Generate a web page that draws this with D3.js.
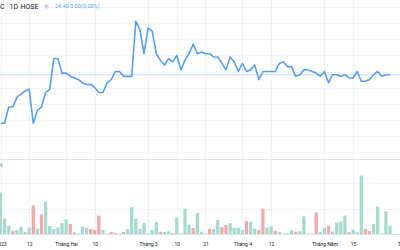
<!DOCTYPE html>
<html>
<head>
<meta charset="utf-8">
<script src="https://cdn.jsdelivr.net/npm/d3@7"></script>
<style>
  body { margin: 0; background: #fff; }
  svg { display: block; font-family: Roboto, "Liberation Sans", Arial, sans-serif; }
</style>
</head>
<body>
<div id="chart"></div>
<script>
// daily closes, Jan 3 2023 .. May 26 2023 (index 0..95)
const prices = [
  22.90, 22.90, 23.40, 23.40, 23.70, 23.80, 23.90, 23.95, 22.90, 23.30,
  23.40, 23.85, 23.95, 24.90, 24.90, 24.45, 24.45, 24.35, 24.30, 24.25,
  24.15, 24.10, 24.10, 24.00, 23.85, 23.85, 24.15, 24.25, 24.50, 24.50,
  24.35, 24.35, 24.35, 26.05, 25.80, 25.05, 25.85, 25.75, 25.05, 24.85,
  24.70, 24.90, 24.80, 25.00, 24.55, 24.85, 25.05, 25.35, 25.05, 25.10,
  25.05, 25.05, 24.95, 24.95, 24.75, 24.55, 24.95, 24.80, 24.50, 24.75,
  24.50, 24.55, 24.70, 24.25, 24.50, 24.50, 24.50, 24.50, 24.75, 24.80,
  24.65, 24.65, 24.35, 24.40, 24.55, 24.55, 24.50, 24.45, 24.35, 24.50,
  24.15, 24.40, 24.40, 24.35, 24.40, 24.30, 24.30, 24.50, 24.20, 24.20,
  24.25, 24.40, 24.50, 24.35, 24.40, 24.40
];

// volume in thousands
const volumes = [
  326, 120, 64, 24, 32, 56, 16, 50, 224, 42,
  154, 254, 64, 40, 50, 86, 114, 78, 14, 6,
  58, 50, 40, 32, 144, 32, 4, 16, 8, 4,
  16, 38, 210, 120, 40, 86, 4, 32, 94, 18,
  16, 22, 8, 128, 4, 198, 74, 46, 166, 18,
  4, 40, 38, 110, 54, 72, 86, 50, 50, 32,
  104, 96, 40, 32, 198, 50, 62, 26, 18, 4,
  6, 32, 18, 22, 138, 4, 4, 170, 14, 50,
  64, 22, 90, 98, 144, 14, 34, 14, 458, 42,
  22, 80, 214, 4, 176, 64
];

// 1 = up day (green), 0 = down day (red)
const upDay = [
  1, 1, 1, 0, 1, 1, 1, 1, 0, 1,
  0, 1, 1, 1, 1, 1, 1, 0, 1, 1,
  1, 1, 0, 0, 0, 1, 1, 0, 0, 1,
  0, 1, 1, 1, 1, 1, 1, 1, 1, 0,
  1, 1, 0, 1, 1, 1, 1, 0, 1, 1,
  1, 0, 1, 1, 0, 0, 1, 1, 1, 1,
  0, 1, 1, 0, 0, 1, 1, 0, 1, 1,
  1, 1, 0, 1, 1, 1, 1, 0, 1, 1,
  0, 1, 1, 1, 1, 0, 1, 1, 1, 0,
  0, 1, 1, 1, 1, 1
];

const tickIndex = [0, 7, 16, 23, 36, 43, 50, 59, 66, 79, 86, 99];
const tickLabels = ["2023", "12", "Tháng Hai", "10", "Tháng 3", "10", "21", "Tháng 4", "12", "Tháng Năm", "15", "Tháng 6"];

const priceGrid = [22.0, 22.5, 23.0, 23.5, 24.0, 24.5, 25.0, 25.5, 26.0, 26.5];
const volGrid = [200, 400];
const lastPrice = 24.40;

const W = 400, H = 250;
const svg = d3.select("#chart").append("svg")
    .attr("width", W)
    .attr("height", H);

const x = d3.scaleLinear().domain([0, 95]).range([0.5, 390]);
const y = d3.scaleLinear().domain([23, 26]).range([120, 23]);
const yv = d3.scaleLinear().domain([0, 400]).range([234, 183]);
const barW = 3.3;

// grid
svg.append("g").selectAll("line")
    .data(priceGrid)
    .enter().append("line")
    .attr("x1", 0).attr("x2", W)
    .attr("y1", d => Math.round(y(d)) + 0.5)
    .attr("y2", d => Math.round(y(d)) + 0.5)
    .attr("stroke", "#f0f3fa");

svg.append("g").selectAll("line")
    .data(volGrid)
    .enter().append("line")
    .attr("x1", 0).attr("x2", W)
    .attr("y1", d => Math.round(yv(d)) + 0.5)
    .attr("y2", d => Math.round(yv(d)) + 0.5)
    .attr("stroke", "#f0f3fa");

svg.append("g").selectAll("line")
    .data(tickIndex)
    .enter().append("line")
    .attr("x1", d => Math.round(x(d)) + 0.5)
    .attr("x2", d => Math.round(x(d)) + 0.5)
    .attr("y1", 0).attr("y2", 234)
    .attr("stroke", "#f0f3fa");

// pane separator and time axis border
svg.append("line")
    .attr("x1", 0).attr("x2", W).attr("y1", 159.5).attr("y2", 159.5)
    .attr("stroke", "#e0e3eb");
svg.append("line")
    .attr("x1", 0).attr("x2", W).attr("y1", 234.5).attr("y2", 234.5)
    .attr("stroke", "#e0e3eb");

// last price line
svg.append("line")
    .attr("x1", 0).attr("x2", W)
    .attr("y1", y(lastPrice)).attr("y2", y(lastPrice))
    .attr("stroke", "#c5dafa")
    .attr("stroke-width", 1);

// volume bars
svg.append("g").selectAll("rect")
    .data(volumes)
    .enter().append("rect")
    .attr("x", (d, i) => x(i) - barW / 2)
    .attr("y", d => yv(d))
    .attr("width", barW)
    .attr("height", d => 234 - yv(d))
    .attr("fill", (d, i) => upDay[i] ? "#a6dacd" : "#f0a9ad");

// price line
const line = d3.line()
    .x((d, i) => x(i))
    .y(d => y(d));

svg.append("path")
    .datum(prices)
    .attr("d", line)
    .attr("fill", "none")
    .attr("stroke", "#5a9ef0")
    .attr("stroke-width", 1.6)
    .attr("stroke-linejoin", "round");

// time axis
const xAxis = d3.axisBottom(x)
    .tickValues(tickIndex)
    .tickFormat((d, i) => tickLabels[i])
    .tickSize(0);

svg.append("g")
    .attr("transform", "translate(0,239)")
    .call(xAxis)
    .call(g => g.select(".domain").remove())
    .selectAll("text")
    .style("font-size", "5px")
    .attr("fill", "#131722")
    .attr("font-family", "Roboto, 'Liberation Sans', Arial, sans-serif");

// header
const header = svg.append("g").style("font-size", "7px").attr("fill", "#131722");
header.append("text").attr("x", 0).attr("y", 8.5).text("C");
header.append("text").attr("x", 9.5).attr("y", 8.5).text("1D");
header.append("text").attr("x", 20.5).attr("y", 8.5).text("HOSE");

svg.append("circle")
    .attr("cx", 46.3).attr("cy", 6.3).attr("r", 2.6)
    .attr("fill", "#e6e8ee");
svg.append("line").attr("x1", 45).attr("x2", 47.6).attr("y1", 5.7).attr("y2", 5.7)
    .attr("stroke", "#a0a4ae").attr("stroke-width", 0.6);
svg.append("line").attr("x1", 45).attr("x2", 47.6).attr("y1", 7).attr("y2", 7)
    .attr("stroke", "#a0a4ae").attr("stroke-width", 0.6);

const quote = svg.append("g").style("font-size", "5.5px").attr("fill", "#5a9ef0");
quote.append("text").attr("x", 55).attr("y", 8).text(lastPrice.toFixed(2));
quote.append("text").attr("x", 70).attr("y", 8).text("0.00");
quote.append("text").attr("x", 81).attr("y", 8).text("(0.00%)");

// volume legend (cropped)
svg.append("text")
    .attr("x", 0).attr("y", 167)
    .style("font-size", "5.2px")
    .attr("fill", "#22ab94")
    .text("K");
</script>
</body>
</html>
